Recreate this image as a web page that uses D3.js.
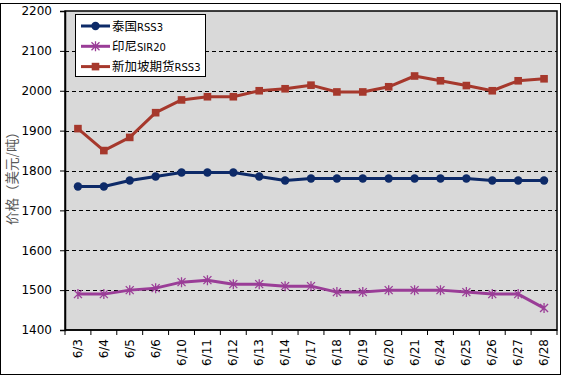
<!DOCTYPE html>
<html lang="zh">
<head>
<meta charset="UTF-8">
<title>橡胶价格</title>
<script src="https://d3js.org/d3.v7.min.js"></script>
<style>
  body { margin: 0; background: #fff; }
  svg text { font-family: "DejaVu Sans", Verdana, sans-serif; }
  .grid line { stroke: #000; stroke-dasharray: 4,3; }
</style>
</head>
<body>
<div id="chart"></div>
<script>
const dates = ["6/3","6/4","6/5","6/6","6/10","6/11","6/12","6/13","6/14","6/17",
               "6/18","6/19","6/20","6/21","6/24","6/25","6/26","6/27","6/28"];
const thaiRSS3 = [1760,1760,1775,1785,1795,1795,1795,1785,1775,1780,
                  1780,1780,1780,1780,1780,1780,1775,1775,1775];
const indoSIR20 = [1490,1490,1500,1505,1520,1525,1515,1515,1510,1510,
                   1495,1495,1500,1500,1500,1495,1490,1490,1455];
const sgxRSS3 = [1905,1850,1883,1945,1977,1985,1985,2000,2005,2014,
                 1997,1997,2010,2037,2025,2013,2000,2025,2030];
const yTicks = [1400,1500,1600,1700,1800,1900,2000,2100,2200];

const series = [
  { name: "泰国", suffix: "RSS3", values: thaiRSS3, color: "#0d2a68", marker: "circle" },
  { name: "印尼", suffix: "SIR20", values: indoSIR20, color: "#9a3d97", marker: "star" },
  { name: "新加坡期货", suffix: "RSS3", values: sgxRSS3, color: "#a6382c", marker: "square" }
];

const W = 563, H = 376;
const margin = { top: 11, right: 6, bottom: 46, left: 65 };
const width = 557 - margin.left;
const height = 330 - margin.top;

const svg = d3.select("#chart").append("svg")
  .attr("width", W).attr("height", H);

// outer chart border
svg.append("rect").attr("x", 0.5).attr("y", 3.5).attr("width", 560).attr("height", 371)
  .attr("fill", "#fff").attr("stroke", "#000");

const g = svg.append("g").attr("transform", `translate(${margin.left},${margin.top})`);

const x = d3.scaleBand().domain(dates).range([0, width]);
const y = d3.scaleLinear().domain([1400, 2200]).range([height, 0]);

g.append("rect").attr("width", width).attr("height", height).attr("fill", "#d9d9d9");

g.append("g").attr("class", "grid")
  .selectAll("line").data(yTicks.filter(d => d > 1400 && d < 2200)).enter().append("line")
  .attr("x1", 0).attr("x2", width)
  .attr("y1", d => Math.round(y(d)) + 0.5).attr("y2", d => Math.round(y(d)) + 0.5);

// plot border
g.append("rect").attr("x", 0).attr("y", 0).attr("width", width).attr("height", height)
  .attr("fill", "none").attr("stroke", "#000").attr("stroke-width", 1.5);

// y axis
const yAxis = g.append("g")
  .call(d3.axisLeft(y).tickValues(yTicks).tickFormat(d3.format("d")).tickSize(5).tickPadding(8));
yAxis.select(".domain").attr("stroke-width", 1.5);
yAxis.selectAll("text").attr("font-size", 12).attr("fill", "#000");

// x axis with ticks between categories
const xAxis = g.append("g").attr("transform", `translate(0,${height})`);
xAxis.append("line").attr("x1", 0).attr("x2", width).attr("stroke", "#000").attr("stroke-width", 1.5);
xAxis.selectAll(".tk").data(d3.range(dates.length + 1)).enter().append("line")
  .attr("x1", i => i * x.bandwidth()).attr("x2", i => i * x.bandwidth())
  .attr("y1", 0).attr("y2", 5).attr("stroke", "#000");
xAxis.selectAll(".lbl").data(dates).enter().append("text")
  .attr("transform", d => `translate(${x(d) + x.bandwidth() / 2 + 4},9) rotate(-90)`)
  .attr("text-anchor", "end").attr("font-size", 12).text(d => d);

// y label
svg.append("text")
  .attr("transform", "translate(17,175) rotate(-90)")
  .attr("text-anchor", "middle").attr("font-size", 13.5).attr("fill", "#595959")
  .style("font-family", "'Noto Sans CJK SC', sans-serif")
  .text("价格（美元/吨）");

const line = d3.line().x((d, i) => x(dates[i]) + x.bandwidth() / 2).y(d => y(d));

function drawMarker(sel, type, color) {
  if (type === "circle") {
    sel.append("circle").attr("r", 4.2).attr("fill", color);
  } else if (type === "square") {
    sel.append("rect").attr("x", -3.8).attr("y", -3.8).attr("width", 7.6).attr("height", 7.6).attr("fill", color);
  } else {
    sel.append("path").attr("d", "M-4,-4L4,4M-4,4L4,-4M0,-5L0,5")
      .attr("stroke", color).attr("stroke-width", 1.3).attr("fill", "none");
  }
}

series.forEach(s => {
  g.append("path").datum(s.values).attr("d", line)
    .attr("fill", "none").attr("stroke", s.color).attr("stroke-width", 3).attr("stroke-linejoin", "round");
  const m = g.selectAll(null).data(s.values).enter().append("g")
    .attr("transform", (d, i) => `translate(${x(dates[i]) + x.bandwidth() / 2},${y(d)})`);
  drawMarker(m, s.marker, s.color);
});

// legend
const lg = svg.append("g");
lg.append("rect").attr("x", 75.5).attr("y", 14.5).attr("width", 130).attr("height", 62)
  .attr("fill", "#fff").attr("stroke", "#000");
series.forEach((s, i) => {
  const yy = 26 + i * 20.3;
  lg.append("line").attr("x1", 81).attr("x2", 110).attr("y1", yy).attr("y2", yy)
    .attr("stroke", s.color).attr("stroke-width", 3);
  drawMarker(lg.append("g").attr("transform", `translate(95.5,${yy})`), s.marker, s.color);
  const t = lg.append("text").attr("x", 112).attr("y", yy + 4.5).attr("font-size", 12.5);
  t.append("tspan").style("font-family", "'Noto Sans CJK SC', sans-serif").text(s.name);
  t.append("tspan").attr("font-size", 10).text(s.suffix);
});
</script>
</body>
</html>
